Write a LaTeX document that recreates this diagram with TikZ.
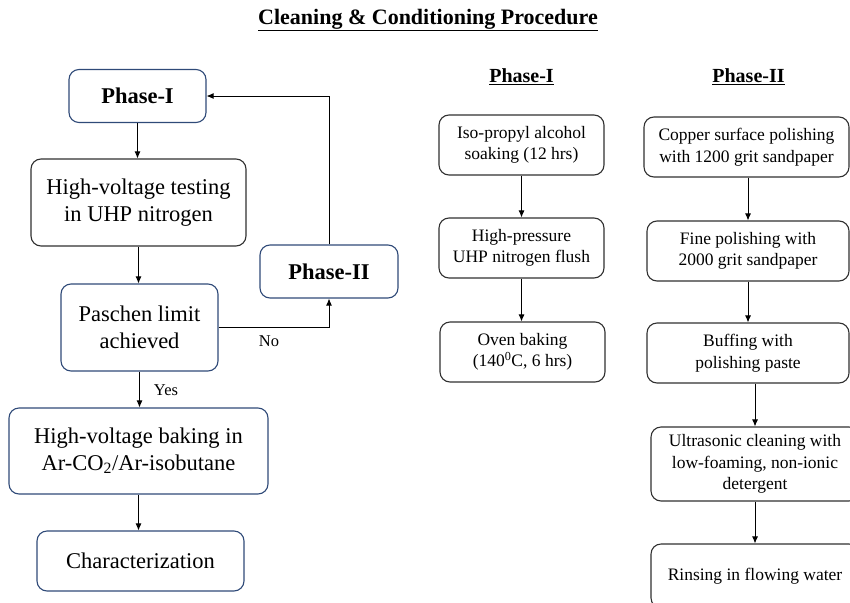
\documentclass[tikz,border=0pt]{standalone}
\usepackage{fontspec}
\setmainfont{Liberation Serif}
\usetikzlibrary{arrows.meta}
\definecolor{navy}{HTML}{2F4A78}
\definecolor{dk}{HTML}{303030}
\begin{document}
\begin{tikzpicture}[x=1pt,y=-1pt,
 box/.style={draw=dk,line width=1.1pt,rounded corners=10pt,align=center,inner sep=0pt},
 bbox/.style={box,draw=navy},
 big/.style={font=\fontsize{22.5}{27}\selectfont},
 small/.style={font=\fontsize{17.5}{21.5}\selectfont},
 arr/.style={-{Latex[length=7pt,width=6pt]},line width=0.9pt,draw=black},
 lbl/.style={font=\fontsize{16.5}{20}\selectfont},
 head/.style={font=\fontsize{20}{24}\selectfont\bfseries}]
\useasboundingbox (0,0) rectangle (850,602);
% title
\node[font=\fontsize{22}{26}\selectfont\bfseries] (title) at (428,20) {\underline{Cleaning \& Conditioning Procedure}};
% left flow
\node[bbox,big,minimum width=137pt,minimum height=53pt] (p1) at (137.5,96) {\bfseries Phase-I};
\node[box,big,minimum width=215pt,minimum height=87pt] (hv) at (138.5,202.5) {High-voltage testing\\in UHP nitrogen};
\node[bbox,big,minimum width=157pt,minimum height=87pt] (pa) at (139.5,327.5) {Paschen limit\\achieved};
\node[bbox,big,minimum width=138pt,minimum height=53pt] (p2) at (329,271.5) {\bfseries Phase-II};
\node[bbox,big,minimum width=259pt,minimum height=86pt] (bk) at (138.5,451) {High-voltage baking in\\Ar-CO\textsubscript{2}/Ar-isobutane};
\node[bbox,big,minimum width=207pt,minimum height=60pt] (ch) at (140.5,561) {Characterization};
\draw[arr] (p1.south) -- (p1.south |- hv.north);
\draw[arr] (hv.south) -- (hv.south |- pa.north);
\draw[arr] (pa.south) -- (pa.south |- bk.north);
\draw[arr] (pa.east) -| (p2.south);
\draw[arr] (p2.north) |- (p1.east);
\draw[arr] (bk.south) -- (bk.south |- ch.north);
\node[lbl] (yes) at (166,390) {Yes};
\node[lbl] (no) at (269,341) {No};
% Phase-I column
\node[head] (h1) at (521.5,77) {\underline{Phase-I}};
\node[box,small,minimum width=165pt,minimum height=60pt] (a1) at (521.5,145) {Iso-propyl alcohol\\soaking (12 hrs)};
\node[box,small,minimum width=165pt,minimum height=60pt] (a2) at (521.5,248) {High-pressure\\UHP nitrogen flush};
\node[box,small,minimum width=165pt,minimum height=60pt] (a3) at (522.5,352) {Oven baking\\(140\textsuperscript{0}C, 6 hrs)};
\draw[arr] (a1) -- (a2);
\draw[arr] (a2.south) -- (a2.south |- a3.north);
% Phase-II column
\node[head] (h2) at (748.5,77) {\underline{Phase-II}};
\node[box,small,minimum width=205pt,minimum height=60pt] (b1) at (746.5,147) {Copper surface polishing\\with 1200 grit sandpaper};
\node[box,small,minimum width=202pt,minimum height=60pt] (b2) at (748,251) {Fine polishing with\\2000 grit sandpaper};
\node[box,small,minimum width=202pt,minimum height=60pt] (b3) at (748,353) {Buffing with\\polishing paste};
\node[box,small,minimum width=208pt,minimum height=74pt] (b4) at (755,464) {Ultrasonic cleaning with\\low-foaming, non-ionic\\detergent};
\node[box,small,minimum width=208pt,minimum height=64pt] (b5) at (755,576) {Rinsing in flowing water};
\draw[arr] (b2.north |- b1.south) -- (b2.north);
\draw[arr] (b2) -- (b3);
\draw[arr] (b4.north |- b3.south) -- (b4.north);
\draw[arr] (b4) -- (b5);
\end{tikzpicture}
\end{document}
